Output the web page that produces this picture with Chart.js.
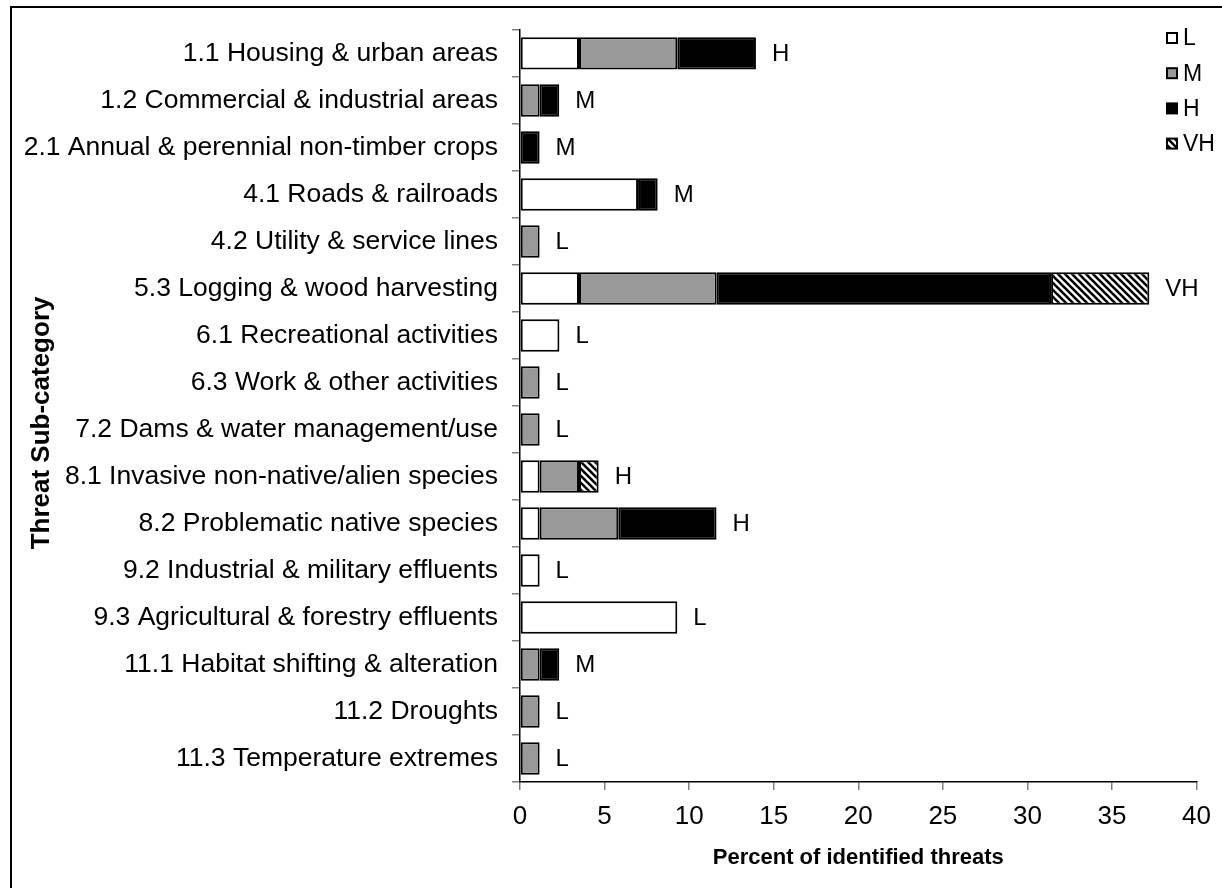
<!DOCTYPE html>
<html>
<head>
<meta charset="utf-8">
<script src="https://cdn.jsdelivr.net/npm/chart.js@4.4.1/dist/chart.umd.min.js"></script>
<style>
  html, body { margin: 0; padding: 0; background: #ffffff; }
  #wrap { position: relative; width: 1222px; height: 888px; }
  canvas { display: block; }
</style>
</head>
<body>
<div id="wrap"><canvas id="c" width="1222" height="888"></canvas></div>
<script>
const categories = [
  '1.1 Housing & urban areas',
  '1.2 Commercial & industrial areas',
  '2.1 Annual & perennial non-timber crops',
  '4.1 Roads & railroads',
  '4.2 Utility & service lines',
  '5.3 Logging & wood harvesting',
  '6.1 Recreational activities',
  '6.3 Work & other activities',
  '7.2 Dams & water management/use',
  '8.1 Invasive non-native/alien species',
  '8.2 Problematic native species',
  '9.2 Industrial & military effluents',
  '9.3 Agricultural & forestry effluents',
  '11.1 Habitat shifting & alteration',
  '11.2 Droughts',
  '11.3 Temperature extremes'
];
const seriesNames = ['L', 'M', 'H', 'VH'];
const valuesL  = [3.49, null, null, 6.98, null, 3.49, 2.33, null, null, 1.16, 1.16, 1.16, 9.30, null, null, null];
const valuesM  = [5.81, 1.16, null, null, 1.16, 8.14, null, 1.16, 1.16, 2.33, 4.65, null, null, 1.16, 1.16, 1.16];
const valuesH  = [4.65, 1.16, 1.16, 1.16, null, 19.77, null, null, null, null, 5.81, null, null, 1.16, null, null];
const valuesVH = [null, null, null, null, null, 5.81, null, null, null, 1.16, null, null, null, null, null, null];
const rankLabels = ['H', 'M', 'M', 'M', 'L', 'VH', 'L', 'L', 'L', 'H', 'H', 'L', 'L', 'M', 'L', 'L'];
const xMin = 0, xMax = 40, xStep = 5;
const xTitle = 'Percent of identified threats';
const yTitle = 'Threat Sub-category';

const FONT = '"Liberation Sans", Arial, Helvetica, sans-serif';

function makeHatch() {
  const s = 7;
  const c = document.createElement('canvas');
  c.width = s; c.height = s;
  const g = c.getContext('2d');
  g.fillStyle = '#ffffff';
  g.fillRect(0, 0, s, s);
  g.strokeStyle = '#000000';
  g.lineWidth = 2.6;
  for (const k of [-s, 0, s]) {
    g.beginPath();
    g.moveTo(k - 1, -1);
    g.lineTo(k + s + 1, s + 1);
    g.stroke();
  }
  return g.createPattern(c, 'repeat');
}
const hatch = makeHatch();

const fills = ['#ffffff', '#999999', '#000000', hatch];
const seriesValues = [valuesL, valuesM, valuesH, valuesVH];

const datasets = seriesNames.map((n, i) => ({
  label: n,
  data: seriesValues[i],
  backgroundColor: fills[i],
  borderColor: '#000000',
  borderWidth: 2,
  borderSkipped: false,
  categoryPercentage: 1.0,
  barPercentage: 0.69
}));

const framePlugin = {
  id: 'frame',
  beforeDraw(chart) {
    const ctx = chart.ctx;
    ctx.save();
    ctx.fillStyle = '#ffffff';
    ctx.fillRect(0, 0, chart.width, chart.height);
    ctx.strokeStyle = '#000000';
    ctx.lineWidth = 2;
    ctx.beginPath();
    ctx.moveTo(11, chart.height + 2);
    ctx.lineTo(11, 7);
    ctx.lineTo(chart.width + 2, 7);
    ctx.stroke();
    ctx.restore();
  }
};

const yTitlePlugin = {
  id: 'yTitle',
  afterDraw(chart) {
    const ctx = chart.ctx;
    const ca = chart.chartArea;
    ctx.save();
    ctx.translate(42, (ca.top + ca.bottom) / 2 + 17);
    ctx.rotate(-Math.PI / 2);
    ctx.fillStyle = '#000000';
    ctx.font = 'bold 26px ' + FONT;
    ctx.textAlign = 'center';
    ctx.textBaseline = 'middle';
    ctx.fillText(yTitle, 0, 0);
    ctx.restore();
  }
};

const rankPlugin = {
  id: 'ranks',
  afterDatasetsDraw(chart) {
    const ctx = chart.ctx;
    const xs = chart.scales.x, ys = chart.scales.y;
    ctx.save();
    ctx.fillStyle = '#000000';
    ctx.font = '24px ' + FONT;
    ctx.textAlign = 'left';
    ctx.textBaseline = 'middle';
    categories.forEach((c, i) => {
      let total = 0;
      seriesValues.forEach(arr => { if (arr[i] != null) total += arr[i]; });
      const x = xs.getPixelForValue(total) + 16;
      const y = ys.getPixelForValue(i);
      ctx.fillText(rankLabels[i], x, y + 1);
    });
    ctx.restore();
  }
};

const legendPlugin = {
  id: 'customLegend',
  afterDraw(chart) {
    const ctx = chart.ctx;
    ctx.save();
    ctx.font = '23px ' + FONT;
    ctx.textBaseline = 'middle';
    ctx.textAlign = 'left';
    const boxX = 1167, box = 10, textX = 1183, y0 = 38, dy = 35.2;
    chart.data.datasets.forEach((ds, i) => {
      const cy = y0 + i * dy;
      ctx.fillStyle = ds.backgroundColor;
      ctx.fillRect(boxX, cy - box / 2, box, box);
      ctx.strokeStyle = '#000000';
      ctx.lineWidth = 2;
      ctx.strokeRect(boxX, cy - box / 2, box, box);
      ctx.fillStyle = '#000000';
      ctx.fillText(ds.label, textX, cy + 1);
    });
    ctx.restore();
  }
};

new Chart(document.getElementById('c'), {
  type: 'bar',
  data: { labels: categories, datasets },
  options: {
    indexAxis: 'y',
    responsive: false,
    animation: false,
    events: [],
    layout: { padding: { left: 4, top: 29, right: 25, bottom: 17 } },
    plugins: {
      legend: { display: false },
      tooltip: { enabled: false }
    },
    scales: {
      x: {
        stacked: true,
        min: xMin,
        max: xMax,
        ticks: {
          stepSize: xStep,
          color: '#000000',
          font: { family: FONT, size: 26 },
          padding: 11,
          maxRotation: 0
        },
        grid: {
          display: true,
          drawOnChartArea: false,
          drawTicks: true,
          tickLength: 8,
          color: '#808080',
          lineWidth: 1.5
        },
        border: { display: true, color: '#000000', width: 1.5 },
        title: {
          display: true,
          text: xTitle,
          color: '#000000',
          font: { family: FONT, size: 22, weight: 'bold' },
          padding: { top: 0, bottom: 0 }
        },
        afterFit(scale) { scale.height = 89; }
      },
      y: {
        stacked: true,
        ticks: {
          autoSkip: false,
          color: '#000000',
          font: { family: FONT, size: 26.5 },
          padding: 14
        },
        grid: {
          display: true,
          drawOnChartArea: false,
          drawTicks: true,
          tickLength: 8,
          color: '#808080',
          lineWidth: 1.5,
          offset: true
        },
        border: { display: true, color: '#000000', width: 1.5 },
        title: { display: false },
        afterFit(scale) { scale.width = 516; }
      }
    }
  },
  plugins: [framePlugin, rankPlugin, legendPlugin, yTitlePlugin]
});
</script>
</body>
</html>
